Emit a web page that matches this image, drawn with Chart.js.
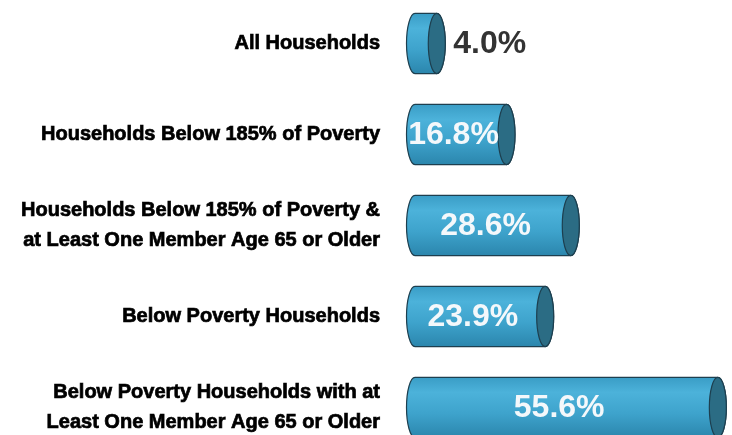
<!DOCTYPE html>
<html>
<head>
<meta charset="utf-8">
<script src="https://cdn.jsdelivr.net/npm/chart.js@4/dist/chart.umd.min.js"></script>
<style>
  html, body { margin: 0; padding: 0; background: #ffffff; overflow: hidden; }
  #wrap { width: 732px; height: 435px; overflow: hidden; position: relative; }
  #c { position: absolute; left: 0; top: -2px; display: block; width: 732px; height: 455px; }
</style>
</head>
<body>
<div id="wrap"><canvas id="c" width="732" height="455"></canvas></div>
<script>
const categories = [
  ["All Households"],
  ["Households Below 185% of Poverty"],
  ["Households Below 185% of Poverty &", "at Least One Member Age 65 or Older"],
  ["Below Poverty Households"],
  ["Below Poverty Households with at", "Least One Member Age 65 or Older"]
];
const values = [4.0, 16.8, 28.6, 23.9, 55.6];

const cylinderPlugin = {
  id: 'cylinders',
  afterDatasetsDraw(chart) {
    const ctx = chart.ctx;
    const meta = chart.getDatasetMeta(0);
    const data = chart.data.datasets[0].data;
    meta.data.forEach((el, i) => {
      const p = el.getProps(['x', 'y', 'base', 'height'], true);
      const rx = 8.5;
      const ry = p.height / 2;
      const top = p.y - ry, bottom = p.y + ry;
      ctx.save();
      const g = ctx.createLinearGradient(0, top, 0, bottom);
      g.addColorStop(0, '#3a9dc6');
      g.addColorStop(0.25, '#4cb2da');
      g.addColorStop(0.6, '#3ea3cc');
      g.addColorStop(1, '#2b86ad');
      ctx.beginPath();
      ctx.moveTo(p.base, top);
      ctx.lineTo(p.x, top);
      ctx.ellipse(p.x, p.y, rx, ry, 0, -Math.PI / 2, Math.PI / 2);
      ctx.lineTo(p.base, bottom);
      ctx.ellipse(p.base, p.y, rx, ry, 0, Math.PI / 2, Math.PI * 1.5);
      ctx.closePath();
      ctx.fillStyle = g;
      ctx.fill();
      ctx.lineWidth = 1.2;
      ctx.strokeStyle = '#1d3f4f';
      ctx.stroke();
      ctx.beginPath();
      ctx.ellipse(p.x, p.y, rx, ry, 0, 0, Math.PI * 2);
      ctx.fillStyle = '#2b6c84';
      ctx.fill();
      ctx.stroke();
      const txt = data[i].toFixed(1) + '%';
      ctx.font = 'bold 32px "Liberation Sans", Arial, sans-serif';
      ctx.textBaseline = 'middle';
      const w = ctx.measureText(txt).width;
      const bodyW = p.x - (p.base - rx);
      if (w + 2 < bodyW) {
        ctx.fillStyle = '#f4f8fb';
        ctx.textAlign = 'center';
        ctx.fillText(txt, (p.base - rx + p.x) / 2 - 3, p.y + 1);
      } else {
        ctx.fillStyle = '#333333';
        ctx.textAlign = 'left';
        ctx.fillText(txt, p.x + rx + 8, p.y + 1);
      }
      ctx.restore();
    });
  }
};

new Chart(document.getElementById('c'), {
  type: 'bar',
  data: {
    labels: categories,
    datasets: [{
      data: values,
      backgroundColor: 'rgba(0,0,0,0)',
      borderWidth: 0,
      barPercentage: 0.66,
      categoryPercentage: 1.0
    }]
  },
  options: {
    indexAxis: 'y',
    responsive: false,
    maintainAspectRatio: false,
    animation: false,
    events: [],
    layout: { padding: 0 },
    plugins: { legend: { display: false }, tooltip: { enabled: false } },
    scales: {
      x: {
        display: false,
        min: 0,
        max: 58.2
      },
      y: {
        afterFit(scale) { scale.width = 415; scale.paddingTop = 0; scale.paddingBottom = 0; },
        grid: { display: false, drawTicks: false },
        border: { display: false },
        ticks: {
          padding: 35,
          color: '#000000',
          textStrokeColor: '#000000',
          textStrokeWidth: 0.7,
          font: { family: '"Liberation Sans", Arial, sans-serif', size: 20, weight: 'bold', lineHeight: 1.5 }
        }
      }
    }
  },
  plugins: [cylinderPlugin]
});
</script>
</body>
</html>
